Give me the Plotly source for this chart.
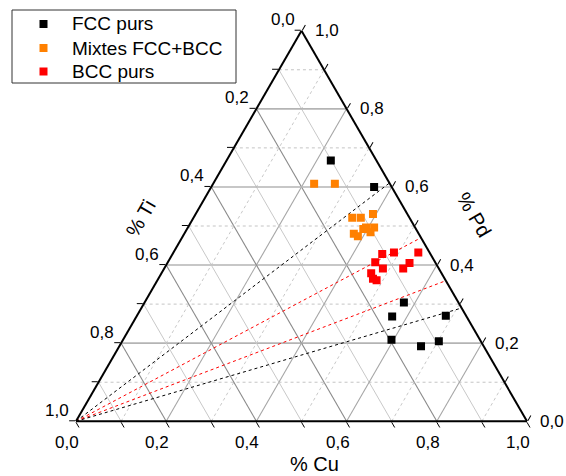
import plotly.graph_objects as go

# ---- data (fractions: Pd, Cu, Ti) ----
fcc_pd = [0.668, 0.600, 0.304, 0.268, 0.270, 0.209, 0.192, 0.205]
fcc_cu = [0.231, 0.361, 0.575, 0.567, 0.685, 0.595, 0.669, 0.702]

mix_pd = [0.608, 0.608, 0.521, 0.521, 0.531, 0.480, 0.474, 0.492, 0.496, 0.484, 0.496]
mix_cu = [0.224, 0.270, 0.352, 0.371, 0.393, 0.376, 0.388, 0.391, 0.395, 0.411, 0.413]

bcc_pd = [0.428, 0.432, 0.432, 0.407, 0.391, 0.405, 0.391, 0.379, 0.365, 0.361]
bcc_cu = [0.465, 0.489, 0.543, 0.460, 0.485, 0.537, 0.530, 0.465, 0.476, 0.486]

series_names = ["FCC purs", "Mixtes FCC+BCC", "BCC purs"]
series_colors = ["black", "#ff8000", "#ff0000"]

# dashed guide lines from the Ti corner to the Pd-Cu edge
guide_pd_end = [0.61, 0.47, 0.36, 0.29]
guide_colors = ["black", "red", "red", "black"]

tick_vals = [i / 10 for i in range(11)]
label_vals = [0.0, 0.2, 0.4, 0.6, 0.8, 1.0]

FONT = "Liberation Sans, Arial, sans-serif"

def fmt(v):
    return ("%.1f" % v).replace(".", ",")

def ti(pd_list, cu_list):
    return [max(0.0, 1 - p - c) for p, c in zip(pd_list, cu_list)]

# ---- geometry ----
W, H = 566, 476
ML, MR, MT, MB = 76, 39, 30, 54
PW, PH = W - ML - MR, H - MT - MB
TRI_H = PW * 3 ** 0.5 / 2
Y_OFF = (PH - TRI_H) / 2

def to_paper(pd, cu, dx=0.0, dy=0.0):
    """ternary point -> paper coords, with a pixel offset (dx right, dy down)."""
    x = PW * (cu + pd / 2) + dx
    y = Y_OFF + TRI_H * pd - dy
    return x / PW, y / PH

def px_to_paper(px, py):
    """figure pixel -> paper coords (used for the legend box)."""
    return (px - ML) / PW, (H - MB - py) / PH

fig = go.Figure()

# ---- grid lines ----
def gridline(fixed, val, color, dash, width):
    if fixed == "a":
        a, b, c = [val, val], [1 - val, 0], [0, 1 - val]
    elif fixed == "b":
        a, b, c = [0, 1 - val], [val, val], [1 - val, 0]
    else:
        a, b, c = [0, 1 - val], [1 - val, 0], [val, val]
    fig.add_trace(go.Scatterternary(a=a, b=b, c=c, mode="lines",
                                    line=dict(color=color, dash=dash, width=width),
                                    hoverinfo="skip", showlegend=False))

for i in range(1, 10):
    v = i / 10
    if i % 2 == 0:
        gridline("a", v, "#b4b4b4", "solid", 1.6)
        gridline("b", v, "#8a8a8a", "solid", 1.1)
        gridline("c", v, "#a6a6a6", "solid", 1.1)
    else:
        gridline("a", v, "#c4c4c4", "dot", 1)
        gridline("b", v, "#c8c8c8", "solid", 1)
        gridline("c", v, "#c8c8c8", "dot", 1)

# ---- dashed guide lines ----
for p, col in zip(guide_pd_end, guide_colors):
    fig.add_trace(go.Scatterternary(a=[0, p], b=[1, 0], c=[0, 1 - p], mode="lines",
                                    line=dict(color=col, dash="3px,3px", width=1),
                                    hoverinfo="skip", showlegend=False))

# ---- data points ----
for name, col, pd_, cu_ in zip(series_names, series_colors,
                               [fcc_pd, mix_pd, bcc_pd], [fcc_cu, mix_cu, bcc_cu]):
    fig.add_trace(go.Scatterternary(a=pd_, b=ti(pd_, cu_), c=cu_, mode="markers",
                                    name=name, showlegend=False,
                                    marker=dict(symbol="square", size=8, color=col)))

axis_common = dict(showgrid=False, tickvals=tick_vals, showticklabels=False,
                   ticks="outside", ticklen=6, tickcolor="black", tickwidth=1.2,
                   linecolor="black", linewidth=2, title=dict(text=""))

# ---- tick labels (Origin style) ----
annotations = []
tick_font = dict(family=FONT, size=17, color="black")
for v in label_vals:
    x, y = to_paper(1 - v, 0, -19, -11)          # % Ti, left edge
    annotations.append(dict(text=fmt(v), x=x, y=y, font=tick_font))
    x, y = to_paper(v, 1 - v, 25, 0)             # % Pd, right edge
    annotations.append(dict(text=fmt(v), x=x, y=y, font=tick_font))
    x, y = to_paper(0, v, -9, 21)                # % Cu, bottom edge
    annotations.append(dict(text=fmt(v), x=x, y=y, font=tick_font))

title_font = dict(family=FONT, size=20, color="black")
x, y = to_paper(0.5, 0, -48, -8)
annotations.append(dict(text="% Ti", x=x, y=y, textangle=-60, font=title_font))
x, y = to_paper(0.5, 0.5, 60, -11)
annotations.append(dict(text="% Pd", x=x, y=y, textangle=60, font=title_font))
x, y = to_paper(0, 0.5, 13, 43)
annotations.append(dict(text="% Cu", x=x, y=y, font=title_font))

# ---- legend (Origin style box) ----
shapes = []
x0, y1 = px_to_paper(12, 10)
x1, y0 = px_to_paper(236, 83)
shapes.append(dict(type="rect", xref="paper", yref="paper", x0=x0, x1=x1, y0=y0, y1=y1,
                   line=dict(color="#333333", width=1), fillcolor="white", layer="above"))
legend_rows = [24, 48, 71.5]
leg_font = dict(family=FONT, size=19, color="black")
for name, col, ry in zip(series_names, series_colors, legend_rows):
    sx0, sy1 = px_to_paper(39.5, ry - 4)
    sx1, sy0 = px_to_paper(47.5, ry + 4)
    shapes.append(dict(type="rect", xref="paper", yref="paper", x0=sx0, x1=sx1, y0=sy0, y1=sy1,
                       line=dict(width=0), fillcolor=col, layer="above"))
    tx, ty = px_to_paper(70, ry)
    annotations.append(dict(text=name, x=tx, y=ty, font=leg_font, xanchor="left"))

for an in annotations:
    an.setdefault("xanchor", "center")
    an.update(xref="paper", yref="paper", showarrow=False, yanchor="middle")

fig.update_layout(
    width=W, height=H,
    margin=dict(l=ML, r=MR, t=MT, b=MB, autoexpand=False),
    paper_bgcolor="white",
    showlegend=False,
    font=dict(family=FONT, size=17, color="black"),
    ternary=dict(sum=1, bgcolor="white",
                 aaxis=axis_common, baxis=axis_common, caxis=axis_common),
    shapes=shapes,
    annotations=annotations,
)

fig.write_html("out.html",
               config={"displayModeBar": False},
               post_script="document.body.style.margin='0px';"
                           "document.body.style.overflow='hidden';")
